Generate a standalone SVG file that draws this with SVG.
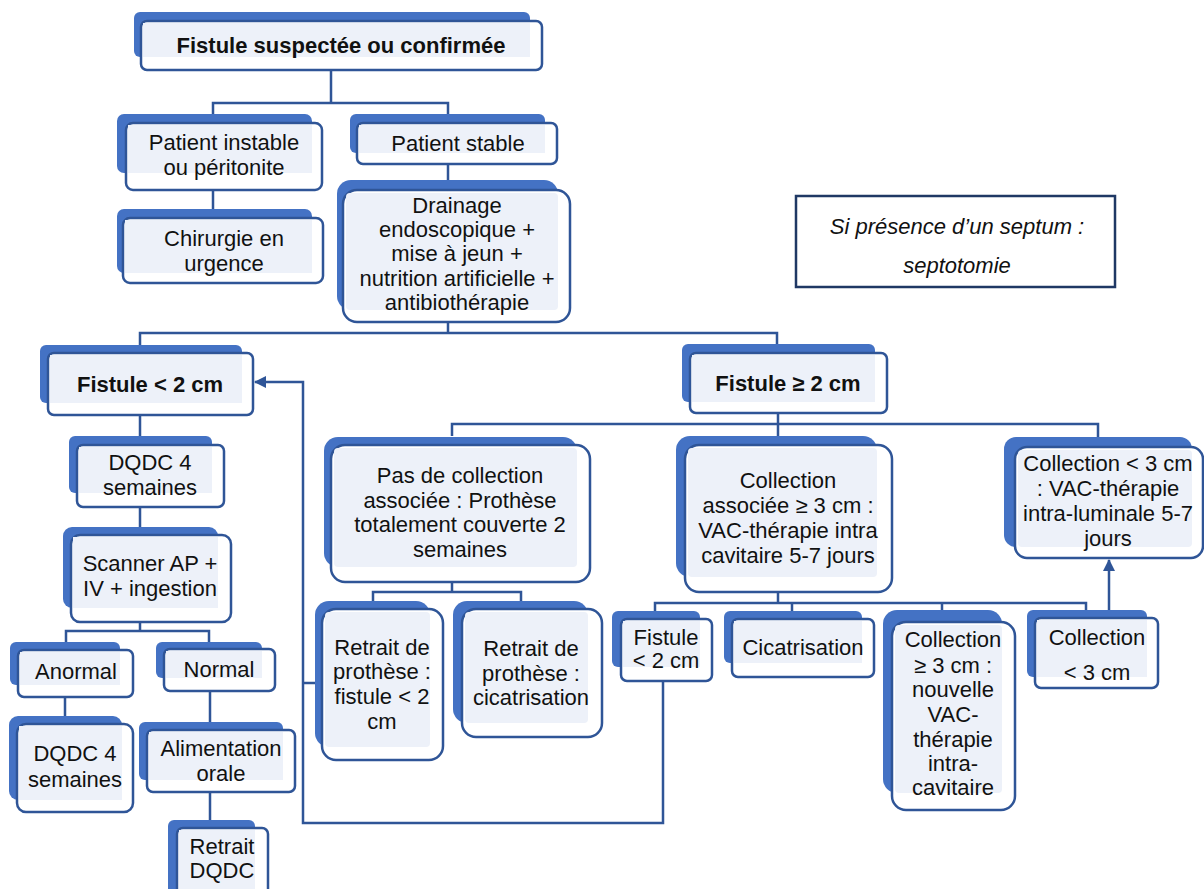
<svg xmlns="http://www.w3.org/2000/svg" width="1204" height="889" viewBox="0 0 1204 889">
<style>
.sh{fill:#4472C4}
.bx{fill:#FFFFFF;stroke:#2F5597;stroke-width:2.5}
.in{fill:#EDF1F9}
.t{font-family:"Liberation Sans",Arial,sans-serif;font-size:22px;fill:#111;text-anchor:middle;dominant-baseline:central}
.b{font-weight:bold}
.i{font-style:italic}
.c{fill:none;stroke:#2F5597;stroke-width:2.5}
</style>
<defs>
<marker id="ah" viewBox="0 0 12 12" refX="11" refY="6" markerWidth="12" markerHeight="12" markerUnits="userSpaceOnUse" orient="auto">
<path d="M0,0 L12,6 L0,12 Z" fill="#2F5597"/>
</marker>
</defs>
<rect width="1204" height="889" fill="#FFFFFF"/>

<g id="connectors">
<path class="c" d="M331,70 V103 M213,115 V103 H448 V115"/>
<path class="c" d="M213,190 V209"/>
<path class="c" d="M448,164 V181"/>
<path class="c" d="M448,322 V333 H140 V345 M448,333 H777 V344"/>
<path class="c" d="M140,415 V437 M140,507 V527 M140,622 V631 H66 V642 M140,631 H209 V642"/>
<path class="c" d="M65,697 V716 M210,691 V722 M210,792 V820"/>
<path class="c" d="M778,413 V436 M452,436 V424 H1098 V437"/>
<path class="c" d="M452,582 V592 H373 V601 M452,592 H521 V601"/>
<path class="c" d="M778,592 V603 M655,611 V603 H1086 V610 M792,603 V611 M942,603 V610"/>
<path class="c" d="M1109,610 V560" marker-end="url(#ah)"/>
<path class="c" d="M663,681 V823 H303 V382 H255" marker-end="url(#ah)"/>
<path class="c" d="M303,683 H315"/>
</g>

<g id="n1">
<rect class="sh" x="134" y="12" width="396" height="45" rx="6"/>
<rect class="bx" x="141" y="21" width="401" height="49" rx="6"/>
<rect class="in" x="143" y="23" width="387" height="34"/>
<text class="t b" x="341" y="45">Fistule suspectée ou confirmée</text>
</g>

<g id="n2">
<rect class="sh" x="117" y="114" width="195" height="59" rx="7"/>
<rect class="bx" x="126" y="123" width="196" height="67" rx="7"/>
<rect class="in" x="128" y="125" width="184" height="48"/>
<text class="t" x="224" y="142">Patient instable</text>
<text class="t" x="224" y="167">ou péritonite</text>
</g>

<g id="n3">
<rect class="sh" x="350" y="114" width="195" height="39" rx="6"/>
<rect class="bx" x="357" y="123" width="200" height="41" rx="6"/>
<rect class="in" x="359" y="125" width="186" height="28"/>
<text class="t" x="458" y="143">Patient stable</text>
</g>

<g id="n4">
<rect class="sh" x="117" y="209" width="195" height="64" rx="7"/>
<rect class="bx" x="123" y="218" width="200" height="65" rx="7"/>
<rect class="in" x="125" y="220" width="187" height="53"/>
<text class="t" x="224" y="238">Chirurgie en</text>
<text class="t" x="224" y="263">urgence</text>
</g>

<g id="n5">
<rect class="sh" x="337" y="180" width="221" height="130" rx="14"/>
<rect class="bx" x="343" y="190" width="227" height="132" rx="14"/>
<rect class="in" x="346" y="193" width="212" height="117" rx="4"/>
<text class="t" x="457" y="205">Drainage</text>
<text class="t" x="457" y="229">endoscopique +</text>
<text class="t" x="457" y="253">mise à jeun +</text>
<text class="t" x="457" y="278">nutrition artificielle +</text>
<text class="t" x="457" y="302">antibiothérapie</text>
</g>

<g id="n6">
<rect class="sh" x="40" y="345" width="202" height="58" rx="6"/>
<rect class="bx" x="48" y="353" width="205" height="62" rx="6"/>
<rect class="in" x="50" y="355" width="192" height="48"/>
<text class="t b" x="150" y="384">Fistule &lt; 2 cm</text>
</g>

<g id="n7">
<rect class="sh" x="682" y="344" width="193" height="58" rx="6"/>
<rect class="bx" x="690" y="353" width="197" height="60" rx="6"/>
<rect class="in" x="692" y="355" width="183" height="47"/>
<text class="t b" x="788" y="383">Fistule ≥ 2 cm</text>
</g>

<g id="n8">
<rect class="sh" x="69" y="436" width="143" height="57" rx="6"/>
<rect class="bx" x="77" y="445" width="147" height="62" rx="6"/>
<rect class="in" x="79" y="447" width="133" height="46"/>
<text class="t" x="150" y="462">DQDC 4</text>
<text class="t" x="150" y="487">semaines</text>
</g>

<g id="n9">
<rect class="sh" x="63" y="527" width="155" height="81" rx="9"/>
<rect class="bx" x="71" y="535" width="160" height="87" rx="9"/>
<rect class="in" x="73" y="537" width="145" height="71"/>
<text class="t" x="150" y="563">Scanner AP +</text>
<text class="t" x="150" y="588">IV + ingestion</text>
</g>

<g id="n10">
<rect class="sh" x="10" y="642" width="110" height="43" rx="6"/>
<rect class="bx" x="18" y="650" width="115" height="47" rx="6"/>
<rect class="in" x="20" y="652" width="100" height="33"/>
<text class="t" x="76" y="671">Anormal</text>
</g>

<g id="n11">
<rect class="sh" x="156" y="642" width="106" height="36" rx="6"/>
<rect class="bx" x="164" y="649" width="111" height="42" rx="6"/>
<rect class="in" x="166" y="651" width="96" height="27"/>
<text class="t" x="219" y="669">Normal</text>
</g>

<g id="n12">
<rect class="sh" x="9" y="716" width="113" height="84" rx="9"/>
<rect class="bx" x="17" y="724" width="116" height="88" rx="9"/>
<rect class="in" x="19" y="726" width="103" height="74"/>
<text class="t" x="75" y="753">DQDC 4</text>
<text class="t" x="75" y="779">semaines</text>
</g>

<g id="n13">
<rect class="sh" x="139" y="722" width="144" height="58" rx="6"/>
<rect class="bx" x="147" y="730" width="148" height="62" rx="6"/>
<rect class="in" x="149" y="732" width="134" height="48"/>
<text class="t" x="221" y="748">Alimentation</text>
<text class="t" x="221" y="773">orale</text>
</g>

<g id="n14">
<rect class="sh" x="168" y="820" width="87" height="75" rx="6"/>
<rect class="bx" x="177" y="828" width="91" height="72" rx="6"/>
<rect class="in" x="179" y="830" width="76" height="65"/>
<text class="t" x="222" y="846">Retrait</text>
<text class="t" x="222" y="870">DQDC</text>
</g>

<g id="n15">
<rect class="sh" x="324" y="437" width="253" height="130" rx="14"/>
<rect class="bx" x="331" y="445" width="259" height="137" rx="14"/>
<rect class="in" x="334" y="448" width="243" height="119" rx="4"/>
<text class="t" x="460" y="475">Pas de collection</text>
<text class="t" x="460" y="500">associée : Prothèse</text>
<text class="t" x="460" y="524">totalement couverte 2</text>
<text class="t" x="460" y="549">semaines</text>
</g>

<g id="n16">
<rect class="sh" x="676" y="436" width="201" height="141" rx="14"/>
<rect class="bx" x="685" y="445" width="207" height="147" rx="14"/>
<rect class="in" x="688" y="448" width="189" height="129" rx="4"/>
<text class="t" x="788" y="480">Collection</text>
<text class="t" x="788" y="505">associée ≥ 3 cm :</text>
<text class="t" x="788" y="530">VAC-thérapie intra</text>
<text class="t" x="788" y="555">cavitaire 5-7 jours</text>
</g>

<g id="n17">
<rect class="sh" x="1004" y="437" width="188" height="110" rx="12"/>
<rect class="bx" x="1015" y="447" width="188" height="111" rx="12"/>
<rect class="in" x="1018" y="450" width="174" height="97" rx="4"/>
<text class="t" x="1108" y="463">Collection &lt; 3 cm</text>
<text class="t" x="1108" y="488">: VAC-thérapie</text>
<text class="t" x="1108" y="513">intra-luminale 5-7</text>
<text class="t" x="1108" y="538">jours</text>
</g>

<g id="n18">
<rect class="sh" x="315" y="601" width="115" height="146" rx="14"/>
<rect class="bx" x="322" y="609" width="121" height="151" rx="14"/>
<rect class="in" x="325" y="612" width="105" height="135" rx="4"/>
<text class="t" x="382" y="647">Retrait de</text>
<text class="t" x="382" y="671">prothèse :</text>
<text class="t" x="382" y="696">fistule &lt; 2</text>
<text class="t" x="382" y="721">cm</text>
</g>

<g id="n19">
<rect class="sh" x="453" y="601" width="135" height="122" rx="14"/>
<rect class="bx" x="462" y="609" width="140" height="128" rx="14"/>
<rect class="in" x="465" y="612" width="123" height="111" rx="4"/>
<text class="t" x="531" y="648">Retrait de</text>
<text class="t" x="531" y="673">prothèse :</text>
<text class="t" x="531" y="697">cicatrisation</text>
</g>

<g id="n20">
<rect class="sh" x="612" y="611" width="88" height="56" rx="6"/>
<rect class="bx" x="621" y="619" width="91" height="62" rx="6"/>
<rect class="in" x="623" y="621" width="77" height="46"/>
<text class="t" x="666" y="637">Fistule</text>
<text class="t" x="666" y="660">&lt; 2 cm</text>
</g>

<g id="n21">
<rect class="sh" x="724" y="611" width="138" height="52" rx="6"/>
<rect class="bx" x="732" y="619" width="142" height="58" rx="6"/>
<rect class="in" x="734" y="621" width="128" height="42"/>
<text class="t" x="803" y="647">Cicatrisation</text>
</g>

<g id="n22">
<rect class="sh" x="883" y="610" width="119" height="183" rx="14"/>
<rect class="bx" x="892" y="622" width="123" height="188" rx="14"/>
<rect class="in" x="895" y="625" width="107" height="168" rx="4"/>
<text class="t" x="953" y="639">Collection</text>
<text class="t" x="953" y="665">≥ 3 cm :</text>
<text class="t" x="953" y="689">nouvelle</text>
<text class="t" x="953" y="714">VAC-</text>
<text class="t" x="953" y="739">thérapie</text>
<text class="t" x="953" y="763">intra-</text>
<text class="t" x="953" y="787">cavitaire</text>
</g>

<g id="n23">
<rect class="sh" x="1027" y="610" width="120" height="67" rx="6"/>
<rect class="bx" x="1035" y="618" width="123" height="70" rx="6"/>
<rect class="in" x="1037" y="620" width="110" height="57"/>
<text class="t" x="1097" y="637">Collection</text>
<text class="t" x="1097" y="672">&lt; 3 cm</text>
</g>

<g id="septum">
<rect x="796" y="196" width="319" height="91" fill="#FFFFFF" stroke="#1F3864" stroke-width="2.5"/>
<text class="t i" x="957" y="226">Si présence d’un septum :</text>
<text class="t i" x="957" y="265">septotomie</text>
</g>
</svg>
